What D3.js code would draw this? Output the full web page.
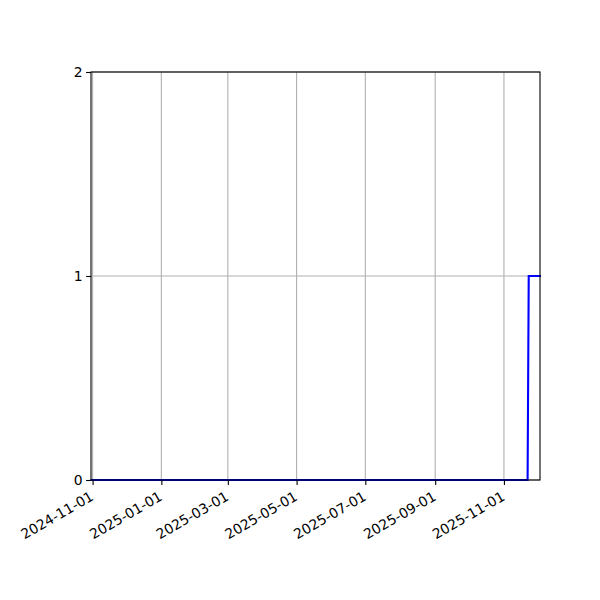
<!DOCTYPE html>
<html>
<head>
<meta charset="utf-8">
<script src="https://cdn.jsdelivr.net/npm/d3@7"></script>
<style>
  body { margin: 0; background: #fff; }
  svg text { font-family: "DejaVu Sans", sans-serif; font-size: 13.9px; fill: #000; }
</style>
</head>
<body>
<svg id="chart" width="600" height="600"></svg>
<script>
// step series: zero for most of the year, then 1 from late November
var dates = ["2024-10-31", "2025-11-22", "2025-11-23", "2025-12-03"];
var values = [0, 0, 1, 1];
var xTicks = ["2024-11-01", "2025-01-01", "2025-03-01", "2025-05-01", "2025-07-01", "2025-09-01", "2025-11-01"];
var yTicks = [0, 1, 2];

var margin = {top: 72, right: 60, bottom: 120, left: 91},
    width = 600 - margin.left - margin.right,
    height = 600 - margin.top - margin.bottom;

var parse = d3.utcParse("%Y-%m-%d");
var data = dates.map(function(d, i) { return {date: parse(d), value: values[i]}; });

var svg = d3.select("#chart");
var g = svg.append("g")
    .attr("transform", "translate(" + margin.left + "," + margin.top + ")");

var x = d3.scaleUtc()
    .domain([parse("2024-10-30").getTime() + 14 * 3600e3, parse("2025-12-03")])
    .range([0, width]);

var y = d3.scaleLinear()
    .domain([0, 2])
    .range([height, 0]);

var tickDates = xTicks.map(parse);

// grid
g.append("g").selectAll("line").data(tickDates).enter().append("line")
    .attr("x1", function(d) { return x(d); })
    .attr("x2", function(d) { return x(d); })
    .attr("y1", 0).attr("y2", height)
    .attr("stroke", "#b0b0b0").attr("stroke-width", 1.1);

g.append("g").selectAll("line").data(yTicks).enter().append("line")
    .attr("y1", function(d) { return y(d); })
    .attr("y2", function(d) { return y(d); })
    .attr("x1", 0).attr("x2", width)
    .attr("stroke", "#b0b0b0").attr("stroke-width", 1.1);

// the series
var line = d3.line()
    .x(function(d) { return x(d.date); })
    .y(function(d) { return y(d.value); });

g.append("path")
    .datum(data)
    .attr("fill", "none")
    .attr("stroke", "#0000ff")
    .attr("stroke-width", 2.1)
    .attr("stroke-linecap", "square")
    .attr("d", line);

// frame
g.append("rect")
    .attr("width", width).attr("height", height)
    .attr("fill", "none").attr("stroke", "#000").attr("stroke-width", 1.1);

// x axis
var xAxis = g.append("g").attr("transform", "translate(0," + height + ")")
    .call(d3.axisBottom(x).tickValues(tickDates).tickSize(4.9).tickPadding(4)
      .tickFormat(d3.utcFormat("%Y-%m-%d")));
xAxis.select(".domain").remove();
xAxis.selectAll("line").attr("stroke", "#000").attr("stroke-width", 1.1);
xAxis.selectAll("text")
    .attr("text-anchor", "end")
    .attr("dy", "0.35em")
    .attr("transform", "translate(-1,15) rotate(-30)")
    .attr("y", 0).attr("x", 0);

// y axis
var yAxis = g.append("g")
    .call(d3.axisLeft(y).tickValues(yTicks).tickSize(4.9).tickPadding(3.5)
      .tickFormat(d3.format("d")));
yAxis.select(".domain").remove();
yAxis.selectAll("line").attr("stroke", "#000").attr("stroke-width", 1.1);
</script>
</body>
</html>
